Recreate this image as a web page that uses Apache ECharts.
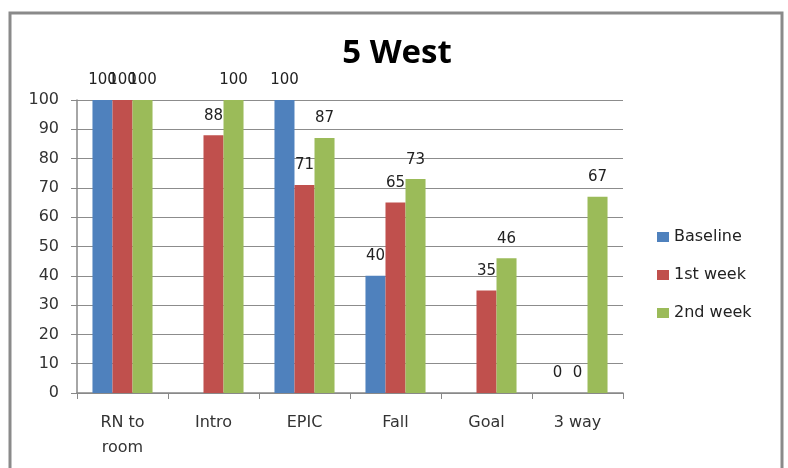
<!DOCTYPE html>
<html><head><meta charset="utf-8">
<script src="https://cdn.jsdelivr.net/npm/echarts@6/dist/echarts.min.js"></script>
<style>html,body{margin:0;padding:0;background:#fff}#c{width:788px;height:468px}</style>
</head><body><div id="c"></div>
<script>
var categories = ['RN to\nroom', 'Intro', 'EPIC', 'Fall', 'Goal', '3 way'];
var baseline = [100, null, 100, 40, null, 0];
var week1 = [100, 88, 71, 65, 35, 0];
var week2 = [100, 100, 87, 73, 46, 67];
var yTicks = [0, 100, 10];

var chart = echarts.init(document.getElementById('c'));
var lbl = {show: true, position: 'top', distance: 12, color: '#222', fontSize: 15, fontFamily: 'DejaVu Sans, sans-serif'};
function mk(name, data, color) {
  return {name: name, type: 'bar', data: data, itemStyle: {color: color}, label: lbl, barGap: '0%', barCategoryGap: '34%'};
}
chart.setOption({
  animation: false,
  title: {text: '5 West', left: 392, textAlign: 'center', top: 32, textStyle: {fontSize: 33, fontWeight: 'bold', color: '#000', fontFamily: 'Open Sans, Liberation Sans, sans-serif'}},
  graphic: [{type: 'rect', shape: {x: 10, y: 13, width: 772, height: 480}, style: {fill: 'none', stroke: '#8a8a8a', lineWidth: 3}, silent: true}],
  legend: {orient: 'vertical', left: 652, top: 224, itemGap: 22, itemWidth: 12, itemHeight: 10, icon: 'rect',
    textStyle: {fontSize: 16, color: '#222', fontFamily: 'DejaVu Sans, sans-serif'},
    data: ['Baseline', '1st week', '2nd week']},
  grid: {left: 77, right: 165, top: 100, bottom: 75},
  xAxis: {type: 'category', data: categories,
    axisLine: {lineStyle: {color: '#888', width: 1.5}},
    axisTick: {show: true, length: 6, lineStyle: {color: '#888'}},
    axisLabel: {fontSize: 16, color: '#333', margin: 17, lineHeight: 25, fontFamily: 'DejaVu Sans, sans-serif'}},
  yAxis: {type: 'value', min: yTicks[0], max: yTicks[1], interval: yTicks[2],
    axisLine: {show: true, lineStyle: {color: '#888', width: 1.5}},
    axisTick: {show: true, length: 6, lineStyle: {color: '#888'}},
    splitLine: {lineStyle: {color: '#8c8c8c', width: 1.2}},
    axisLabel: {fontSize: 16, color: '#333', margin: 18, fontFamily: 'DejaVu Sans, sans-serif'}},
  series: [mk('Baseline', baseline, '#4F81BD'), mk('1st week', week1, '#C0504D'), mk('2nd week', week2, '#9BBB59')]
});
</script></body></html>
